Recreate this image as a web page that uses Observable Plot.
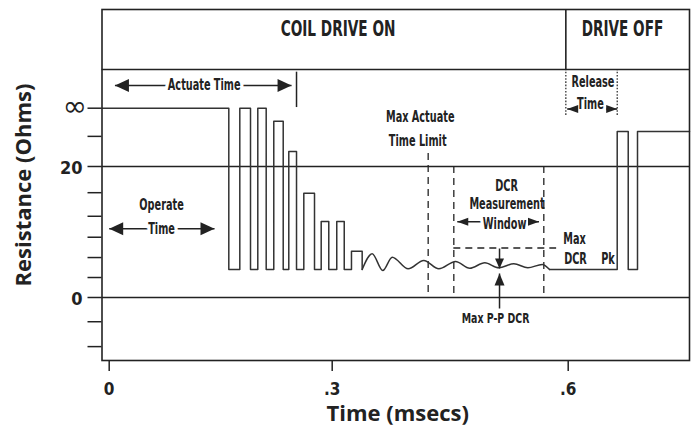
<!DOCTYPE html>
<html><head><meta charset="utf-8">
<script src="https://cdn.jsdelivr.net/npm/d3@7"></script>
<script src="https://cdn.jsdelivr.net/npm/@observablehq/plot@0.6"></script>
<style>body{margin:0;background:#fff}</style>
</head><body><div id="chart"></div>
<script>
// ---- values (time in msecs, resistance in chart units) ----
const INF = 28.9;      // the "∞" level
const LOW = 4.27;      // closed-contact level
const HEADER = 34.8;   // header band divider
const Y_MIN = -9.62, Y_MAX = 43.97;

const xTicks = [0, 0.3, 0.6];
const xTickLabels = ["0", ".3", ".6"];
const yTicks = [INF, 24.6, 20, 16, 12.4, 9.2, 6.1, 3.05, 0, -3.7, -7.5];
const yLabelValues = [20, 0];
const yLabelTexts = ["20", "0"];

// bounce section (step-after edges)
const pulseTimes  = [-0.0095, 0.1609, 0.1757, 0.1901, 0.1999, 0.2112, 0.2214, 0.2341, 0.2416, 0.2520, 0.2618, 0.2762, 0.2852, 0.2954, 0.3058, 0.3153, 0.3245, 0.3381];
const pulseLevels = [INF, LOW, INF, LOW, INF, LOW, 26.9, LOW, 22.3, LOW, 15.9, LOW, 11.6, LOW, 11.6, LOW, 7.07, LOW];
// ringing section (peaks and troughs)
const ringTimes  = [0.3381, 0.3508, 0.3643, 0.3763, 0.3966, 0.4164, 0.4355, 0.4568, 0.4749, 0.4940, 0.5118, 0.5309, 0.5487, 0.5670, 0.5763];
const ringLevels = [4.27, 6.67, 4.12, 6.15, 4.38, 5.65, 4.38, 5.50, 4.47, 5.30, 4.53, 5.15, 4.53, 5.04, 4.27];
// release section (step-after edges)
const releaseTimes  = [0.5763, 0.6623, 0.6763, 0.6881, 0.7542];
const releaseLevels = [LOW, 25.34, LOW, 25.34, 25.34];

// annotation markers
const driveOffTime = 0.597;
const actuateEnd = 0.2520;
const maxActuateLimit = 0.4220;
const dcrWindow = [0.4546, 0.5690];
const dcrMaxLevel = 7.56, dcrMaxEnd = 0.5853;
const releaseEnd = 0.6623;
const ppTime = 0.5127;

// arrows: [x1, y1] tail, [x2, y2] tip
const arrowX1 = [0.0077, 0.0,   0.5987, 0.4590, ppTime, ppTime];
const arrowY1 = [32.37, 10.49, 28.78, 11.56, 7.48, -1.68];
const arrowX2 = [0.2453, 0.1417, 0.6623, 0.5629, ppTime, ppTime];
const arrowY2 = [32.37, 10.49, 28.78, 11.56, 4.43, 3.66];

// texts
const headTexts = ["COIL DRIVE ON", "DRIVE OFF"];
const headT = [0.3074, 0.6690];
const headR = [40.99, 40.99];
const headSizes = [22, 21];
const noteTexts = ["Operate", "Release", "Max Actuate", "Time Limit", "DCR", "Measurement", "Max", "DCR", "Pk"];
const noteT = [0.0704, 0.6315, 0.4119, 0.4087, 0.5216, 0.5222, 0.6080, 0.6093, 0.6506];
const noteR = [14.05, 32.9, 27.48, 23.89, 17.02, 14.2, 8.85, 5.80, 5.80];
const haloTexts = ["Actuate Time", "Time", "Time", "Window"];
const haloT = [0.1278, 0.0704, 0.6283, 0.5192];
const haloR = [32.37, 10.49, 29.47, 11.22];
const ppText = ["Max P-P DCR"];
const ppR = [-3.13];

// ---- drawing ----
const FONT = "'Liberation Sans Narrow', 'Arial Narrow', 'DejaVu Sans Condensed', sans-serif";
const INK = "#222";
function head(dx, dy, L, h) {
  return {draw(ctx) {
    const px = -dy, py = dx;
    ctx.moveTo(0, 0);
    ctx.lineTo(-dx * L + px * h, -dy * L + py * h);
    ctx.lineTo(-dx * L - px * h, -dy * L - py * h);
    ctx.closePath();
  }};
}
const idx = d3.range(arrowX1.length);
const tip = (ids) => ids.map(i => ({x: arrowX2[i], y: arrowY2[i]}));
const tail = (ids) => ids.map(i => ({x: arrowX1[i], y: arrowY1[i]}));
const xLabelMap = new Map(xTicks.map((d, i) => [d, xTickLabels[i]]));

const chart = Plot.plot({
  width: 693, height: 428,
  marginLeft: 101.5, marginRight: 4, marginTop: 9, marginBottom: 68,
  x: {type: "linear", domain: [0, 0.3, 0.6], range: [108.7, 331.7, 567.7]},
  y: {domain: [Y_MIN, Y_MAX]},
  style: {fontFamily: FONT, background: "#fff", color: INK},
  marks: [
    Plot.ruleY([HEADER, 20, 0], {stroke: INK, strokeWidth: 1.6}),
    Plot.ruleX([driveOffTime], {y1: HEADER, y2: Y_MAX, stroke: INK, strokeWidth: 1.6}),
    Plot.ruleX([actuateEnd], {y1: 29.0, y2: 34.4, stroke: INK, strokeWidth: 1.5}),
    Plot.ruleX([driveOffTime, releaseEnd], {y1: 27.79, y2: HEADER, stroke: INK, strokeWidth: 1.2, strokeDasharray: "1.6,1.6"}),
    Plot.ruleX([maxActuateLimit], {y1: 21.98, y2: 0, stroke: INK, strokeWidth: 1.3, strokeDasharray: "7,5"}),
    Plot.ruleX(dcrWindow, {y1: 20, y2: 0, stroke: INK, strokeWidth: 1.3, strokeDasharray: "7,5"}),
    Plot.ruleY([dcrMaxLevel], {x1: dcrWindow[0], x2: dcrMaxEnd, stroke: INK, strokeWidth: 1.3, strokeDasharray: "7,5"}),
    Plot.axisX(xTicks, {tickSize: 11, tickPadding: 11, tickFormat: d => xLabelMap.get(d), fontSize: 17, fontWeight: "bold", label: null, strokeWidth: 1.5}),
    Plot.axisY(yTicks, {tickSize: 14, tickFormat: () => "", label: null, strokeWidth: 1.5}),
    Plot.text(yLabelTexts, {y: yLabelValues, frameAnchor: "left", dx: -19.5, dy: 2, textAnchor: "end", fontSize: 18, fontWeight: "bold"}),
    Plot.text(["∞"], {y: [INF], frameAnchor: "left", dx: -15, dy: -1, textAnchor: "end", fontSize: 29, fontFamily: "DejaVu Sans"}),
    Plot.line(pulseTimes, {x: pulseTimes, y: pulseLevels, curve: "step-after", stroke: "#333", strokeWidth: 1.5}),
    Plot.line(ringTimes, {x: ringTimes, y: ringLevels, curve: "monotone-x", stroke: "#333", strokeWidth: 1.5}),
    Plot.line(releaseTimes, {x: releaseTimes, y: releaseLevels, curve: "step-after", stroke: "#333", strokeWidth: 1.5}),
    Plot.link(idx, {x1: i => arrowX1[i], y1: i => arrowY1[i], x2: i => arrowX2[i], y2: i => arrowY2[i], stroke: INK, strokeWidth: 1.5}),
    Plot.frame({stroke: INK, strokeWidth: 1.6}),
    Plot.text(headTexts, {x: headT, y: headR, fontSize: (d, i) => headSizes[i], fontWeight: "bold"}),
    Plot.text(noteTexts, {x: noteT, y: noteR, fontSize: 15, fontWeight: "bold"}),
    Plot.text(haloTexts, {x: haloT, y: haloR, fontSize: 15, fontWeight: "bold", stroke: "white", strokeWidth: 9, fill: INK}),
    Plot.text(ppText, {x: [ppTime - 0.005], y: ppR, fontSize: 14.5, fontWeight: "bold"}),
    Plot.text(["Resistance (Ohms)"], {frameAnchor: "left", dx: -78, dy: 0, rotate: -90, textAnchor: "middle", fontSize: 22, fontWeight: 700, fontFamily: "'Open Sans', sans-serif"}),
    Plot.text(["Time (msecs)"], {frameAnchor: "bottom", dx: 2, dy: 60, textAnchor: "middle", fontSize: 22, fontWeight: 700, fontFamily: "'Open Sans', sans-serif"}),
    // arrowheads
    Plot.dot(tip([0, 1]), {x: "x", y: "y", symbol: head(1, 0, 14, 6.5), r: 5, fill: INK, stroke: "none"}),
    Plot.dot(tail([0, 1]), {x: "x", y: "y", symbol: head(-1, 0, 14, 6.5), r: 5, fill: INK, stroke: "none"}),
    Plot.dot(tip([2, 3]), {x: "x", y: "y", symbol: head(1, 0, 11, 4), r: 5, fill: INK, stroke: "none"}),
    Plot.dot(tail([2, 3]), {x: "x", y: "y", symbol: head(-1, 0, 11, 4), r: 5, fill: INK, stroke: "none"}),
    Plot.dot(tip([4]), {x: "x", y: "y", symbol: head(0, 1, 10, 4.5), r: 5, fill: INK, stroke: "none"}),
    Plot.dot(tip([5]), {x: "x", y: "y", symbol: head(0, -1, 12, 5), r: 5, fill: INK, stroke: "none"})
  ]
});
document.getElementById("chart").appendChild(chart);

// condense the annotation lettering (the original uses a condensed face)
const condensed = new Set([...headTexts, ...noteTexts, ...haloTexts, ...ppText]);
d3.select(chart).selectAll("text").each(function () {
  if (!condensed.has(this.textContent)) return;
  const factor = this.textContent === "COIL DRIVE ON" ? 0.69 : 0.72;
  const w = this.getComputedTextLength();
  this.setAttribute("textLength", (w * factor).toFixed(1));
  this.setAttribute("lengthAdjust", "spacingAndGlyphs");
});
</script>
</body></html>
